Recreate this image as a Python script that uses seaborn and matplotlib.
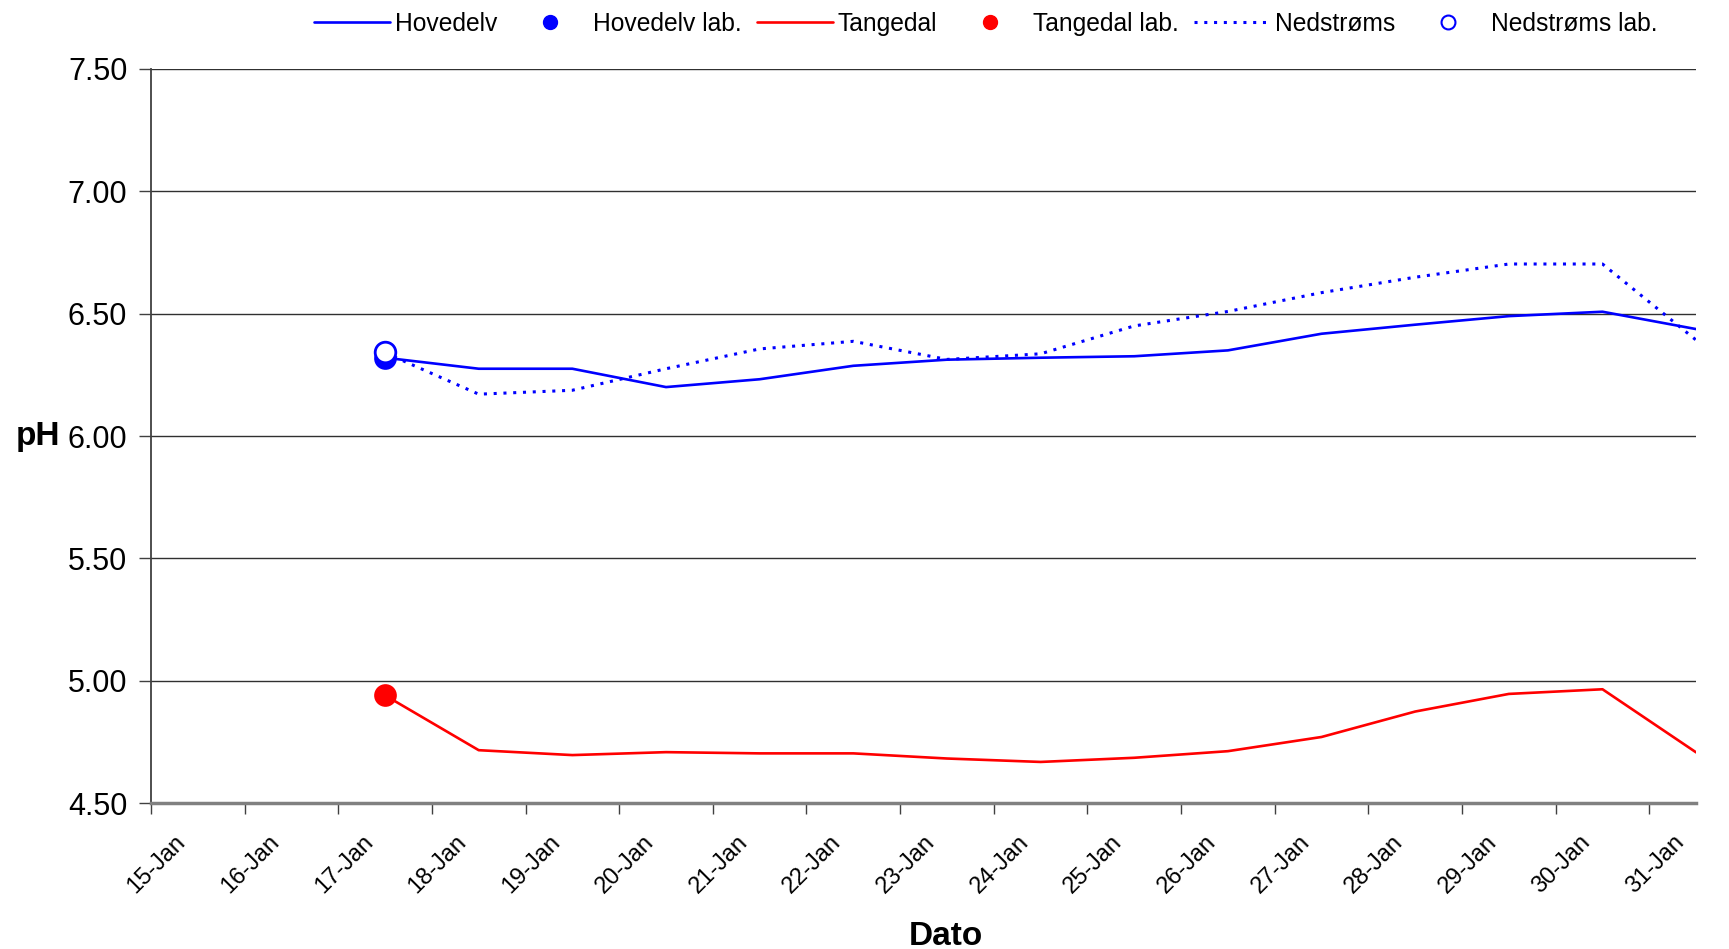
import seaborn as sns
import matplotlib.pyplot as plt
import matplotlib.dates as mdates
import matplotlib.transforms as mtrans
from matplotlib.lines import Line2D
import pandas as pd

# Data (daily readings at noon)
dates = ['2000-01-17 12:00', '2000-01-18 12:00', '2000-01-19 12:00', '2000-01-20 12:00',
         '2000-01-21 12:00', '2000-01-22 12:00', '2000-01-23 12:00', '2000-01-24 12:00',
         '2000-01-25 12:00', '2000-01-26 12:00', '2000-01-27 12:00', '2000-01-28 12:00',
         '2000-01-29 12:00', '2000-01-30 12:00', '2000-01-31 12:00']
hovedelv = [6.32, 6.275, 6.275, 6.20, 6.232, 6.287, 6.312, 6.32, 6.326, 6.35,
            6.418, 6.455, 6.49, 6.508, 6.437]
tangedal = [4.94, 4.716, 4.696, 4.708, 4.703, 4.703, 4.682, 4.668, 4.685, 4.712,
            4.77, 4.874, 4.946, 4.965, 4.707]
nedstroms = [6.34, 6.171, 6.187, 6.275, 6.356, 6.387, 6.313, 6.336, 6.45, 6.509,
             6.586, 6.649, 6.703, 6.703, 6.392]

lab_dates = ['2000-01-17 12:00']
hovedelv_lab = [6.318]
tangedal_lab = [4.94]
nedstroms_lab = [6.342]

tick_days = ['2000-01-%02d' % d for d in range(15, 32)]

df = pd.DataFrame({'dato': pd.to_datetime(dates), 'Hovedelv': hovedelv,
                   'Tangedal': tangedal, 'Nedstrøms': nedstroms})
lab = pd.DataFrame({'dato': pd.to_datetime(lab_dates), 'Hovedelv lab.': hovedelv_lab,
                    'Tangedal lab.': tangedal_lab, 'Nedstrøms lab.': nedstroms_lab})

sns.set_style('white')
plt.rcParams['font.family'] = ['Liberation Sans', 'DejaVu Sans']
plt.rcParams['text.color'] = 'black'
plt.rcParams['axes.labelcolor'] = 'black'

fig = plt.figure(figsize=(17.29, 9.49), dpi=100)
ax = fig.add_axes([0.0873, 0.1538, 0.8937, 0.7735])

blue = '#0000FF'
red = '#FF0000'

sns.lineplot(data=df, x='dato', y='Hovedelv', color=blue, lw=1.9, ax=ax)
sns.lineplot(data=df, x='dato', y='Tangedal', color=red, lw=1.9, ax=ax)
sns.lineplot(data=df, x='dato', y='Nedstrøms', color=blue, lw=2.2, ax=ax)
ax.lines[-1].set_linestyle((0, (1, 2.2)))

sns.scatterplot(data=lab, x='dato', y='Hovedelv lab.', color=blue, s=220,
                edgecolor=blue, linewidth=1.5, zorder=5, ax=ax)
sns.scatterplot(data=lab, x='dato', y='Tangedal lab.', color=red, s=220,
                edgecolor=red, linewidth=1.5, zorder=5, ax=ax)
sns.scatterplot(data=lab, x='dato', y='Nedstrøms lab.', color='white', s=220,
                edgecolor=blue, linewidth=2, zorder=6, ax=ax)

ax.set_ylim(4.5, 7.5)
ax.set_yticks([4.5, 5.0, 5.5, 6.0, 6.5, 7.0, 7.5])
ax.yaxis.set_major_formatter(plt.FormatStrFormatter('%.2f'))
ax.set_xlim(pd.Timestamp(tick_days[0]), pd.Timestamp(dates[-1]))
ax.set_xticks(pd.to_datetime(tick_days))
ax.xaxis.set_major_formatter(mdates.DateFormatter('%d-%b'))

ax.grid(axis='y', color='#303030', lw=1.0)
ax.grid(axis='x', visible=False)
for side in ['top', 'right']:
    ax.spines[side].set_visible(False)
ax.spines['left'].set_color('#404040')
ax.spines['left'].set_linewidth(1.3)
ax.spines['bottom'].set_color('#808080')
ax.spines['bottom'].set_linewidth(2.5)

ax.tick_params(axis='y', direction='out', length=9, width=1, color='#404040',
               labelsize=22, labelcolor='black', pad=8, left=True)
ax.tick_params(axis='x', direction='out', length=8, width=1, color='#404040',
               labelsize=17, labelcolor='black', pad=12, bottom=True)
shift = mtrans.ScaledTranslation(6 / 100, 0, fig.dpi_scale_trans)
for t in ax.get_xticklabels():
    t.set_rotation(45)
    t.set_ha('center')
    t.set_transform(t.get_transform() + shift)

ax.set_ylabel('pH', rotation=0, fontsize=24, fontweight='bold', va='center')
ax.yaxis.set_label_coords(-0.073, 0.5)
ax.set_xlabel('Dato', fontsize=24, fontweight='bold', va='top')
ax.xaxis.set_label_coords(0.5146, -0.161)

handles = [
    Line2D([], [], color=blue, lw=1.9),
    Line2D([], [], color=blue, marker='o', ls='none', markersize=10),
    Line2D([], [], color=red, lw=1.9),
    Line2D([], [], color=red, marker='o', ls='none', markersize=10),
    Line2D([], [], color=blue, lw=2.2, ls=(0, (1, 2.2))),
    Line2D([], [], color=blue, marker='o', ls='none', markersize=10,
           markerfacecolor='white', markeredgewidth=1.5),
]
labels = ['Hovedelv', 'Hovedelv lab.', 'Tangedal', 'Tangedal lab.', 'Nedstrøms', 'Nedstrøms lab.']
fig.legend(handles, labels, loc='center', bbox_to_anchor=(0.570, 0.975), ncol=6,
           frameon=False, fontsize=17.7, handlelength=3.1, handletextpad=0.2,
           columnspacing=0.6, borderpad=0)

fig.savefig('out.png', dpi=100)
